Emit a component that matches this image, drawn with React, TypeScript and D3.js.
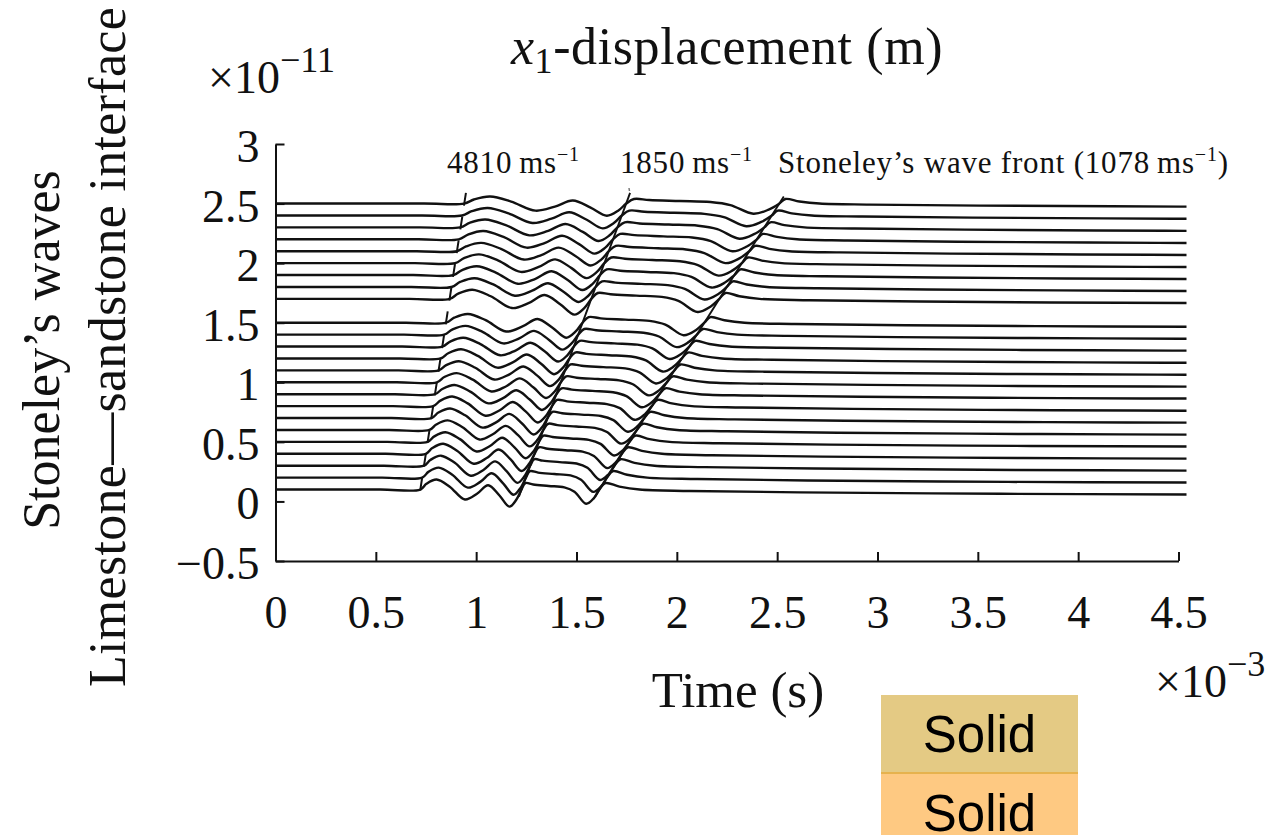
import React, { useRef, useEffect } from "react";
import * as d3 from "d3";

// receiver traces, baseline offset (×1e-11 m), top to bottom
const baselines = [2.5, 2.4, 2.3, 2.2, 2.1, 2.0, 1.9, 1.8, 1.7, 1.5, 1.4, 1.3, 1.2, 1.1, 1.0, 0.9, 0.8, 0.7, 0.6, 0.5, 0.4, 0.3, 0.2, 0.1];

// arrival times (×1e-3 s)
const pArrival = [0.94, 0.93, 0.92, 0.913, 0.904, 0.895, 0.886, 0.877, 0.868, 0.85, 0.84, 0.831, 0.822, 0.813, 0.804, 0.795, 0.786, 0.777, 0.767, 0.758, 0.749, 0.74, 0.731, 0.722];
const sArrival = [1.748, 1.726, 1.704, 1.682, 1.661, 1.639, 1.617, 1.595, 1.574, 1.53, 1.509, 1.487, 1.465, 1.443, 1.422, 1.4, 1.378, 1.356, 1.335, 1.313, 1.291, 1.269, 1.248, 1.226];
const stArrival = [2.511, 2.473, 2.436, 2.399, 2.361, 2.324, 2.287, 2.249, 2.212, 2.137, 2.1, 2.062, 2.025, 1.988, 1.95, 1.913, 1.875, 1.838, 1.801, 1.764, 1.726, 1.689, 1.652, 1.614];
const traceGain = [0.85, 0.9, 0.95, 1.0, 1.0, 1.05, 1.05, 1.05, 1.1, 1.05, 1.05, 1.05, 1.1, 1.1, 1.1, 1.1, 1.15, 1.15, 1.15, 1.15, 1.2, 1.2, 1.2, 1.2];

// wave shape between P and 1850 m/s arrivals (fraction of window, amplitude)
const pWindowU = [0, 0.06, 0.16, 0.29, 0.44, 0.56, 0.67, 0.78, 0.88, 0.95, 1.0];
const pWindowAmp = [0, 0.04, 0.07, 0.02, -0.07, -0.03, 0.03, -0.04, -0.12, -0.07, 0];
// wave shape between 1850 m/s arrival and Stoneley front
const sWindowV = [0.05, 0.15, 0.35, 0.55, 0.68, 0.83, 0.93, 1.0];
const sWindowAmp = [0.045, 0.035, 0.025, 0.015, -0.015, -0.1, -0.06, 0];
// tail after Stoneley front (ms after arrival, amplitude)
const tailDt = [0.03, 0.1, 0.2, 0.45, 1.0, 2.0, 3.0];
const tailAmp = [0.045, 0.02, 0.0, -0.01, -0.02, -0.03, -0.035];

// wave fronts: [time, offset] at top and bottom
const pFront = [[0.949, 2.59], [0.72, 0.08]];
const sFront = [[1.767, 2.59], [1.213, 0.04]];
const stFront = [[2.533, 2.56], [1.592, 0.04]];

const xTicks = [0, 0.5, 1, 1.5, 2, 2.5, 3, 3.5, 4, 4.5];
const xTickLabels = ["0", "0.5", "1", "1.5", "2", "2.5", "3", "3.5", "4", "4.5"];
const yTicks = [3, 2.5, 2, 1.5, 1, 0.5, 0, -0.5];
const yTickLabels = ["3", "2.5", "2", "1.5", "1", "0.5", "0", "\u22120.5"];

const legendItems = ["Solid", "Solid"];
const legendColors = ["#e4ca84", "#fec982"];

const W = 1281;
const H = 835;
const serif = "'Liberation Serif', 'Times New Roman', serif";

function buildTrace(i) {
  const b = baselines[i];
  const g = traceGain[i];
  const tp = pArrival[i];
  const ts = sArrival[i];
  const tst = stArrival[i];
  const pts = [[0, b], [tp - 0.2, b]];
  pWindowU.forEach((u, k) => pts.push([tp + u * (ts - tp), b + g * pWindowAmp[k]]));
  sWindowV.forEach((v, k) => pts.push([ts + v * (tst - ts), b + g * sWindowAmp[k]]));
  tailDt.forEach((dt, k) => pts.push([tst + dt, b + g * tailAmp[k]]));
  return pts;
}

const App = () => {
  const svgRef = useRef();

  useEffect(() => {
    const svg = d3.select(svgRef.current);
    svg.selectAll("*").remove();

    const x = d3.scaleLinear().domain([0, 4.5]).range([275.5, 1178.5]);
    const y = d3.scaleLinear().domain([-0.5, 3]).range([561, 144]);

    svg
      .append("defs")
      .append("clipPath")
      .attr("id", "plotClip")
      .append("rect")
      .attr("x", x(0))
      .attr("y", 0)
      .attr("width", x(4.5) - x(0) + 8)
      .attr("height", H);

    const line = d3
      .line()
      .x((d) => x(d[0]))
      .y((d) => y(d[1]))
      .curve(d3.curveCatmullRom.alpha(0.5));

    // traces
    const traces = svg.append("g").attr("clip-path", "url(#plotClip)");
    baselines.forEach((_, i) => {
      traces
        .append("path")
        .attr("d", line(buildTrace(i)))
        .attr("fill", "none")
        .attr("stroke", "#111")
        .attr("stroke-width", 2.4)
        .attr("stroke-linejoin", "round");
    });

    // wave front markers
    const straight = d3.line().x((d) => x(d[0])).y((d) => y(d[1]));
    traces
      .append("path")
      .attr("d", straight(pFront))
      .attr("fill", "none")
      .attr("stroke", "#111")
      .attr("stroke-width", 2)
      .attr("stroke-dasharray", "13 11");
    [sFront, stFront].forEach((f) => {
      traces
        .append("path")
        .attr("d", straight(f))
        .attr("fill", "none")
        .attr("stroke", "#111")
        .attr("stroke-width", 1.9);
    });

    // axes
    const xAxis = svg
      .append("g")
      .attr("transform", `translate(0, ${y(-0.5)})`)
      .call(
        d3
          .axisBottom(x)
          .tickValues(xTicks)
          .tickFormat((_, i) => xTickLabels[i])
          .tickSizeInner(-9)
          .tickSizeOuter(0)
          .tickPadding(34)
      );
    const yAxis = svg
      .append("g")
      .attr("transform", `translate(${x(0)}, 0)`)
      .call(
        d3
          .axisLeft(y)
          .tickValues(yTicks)
          .tickFormat((_, i) => yTickLabels[i])
          .tickSizeInner(-9)
          .tickSizeOuter(0)
          .tickPadding(16)
      );
    [xAxis, yAxis].forEach((a) => {
      a.selectAll("path, line").attr("stroke", "#111").attr("stroke-width", 2);
      a.selectAll("text")
        .attr("fill", "#111")
        .style("font-family", serif)
        .style("font-size", "46px");
    });
    yAxis.selectAll("text").attr("dy", "0.38em");

    const txt = (px, py, size, anchor = "start") =>
      svg
        .append("text")
        .attr("x", px)
        .attr("y", py)
        .attr("text-anchor", anchor)
        .attr("fill", "#111")
        .style("font-family", serif)
        .style("font-size", `${size}px`);

    // title
    const title = txt(727, 64, 52, "middle").attr("letter-spacing", 0.6);
    title.append("tspan").attr("font-style", "italic").text("x");
    title.append("tspan").attr("font-size", 36).attr("dy", 9).text("1");
    title.append("tspan").attr("dy", -9).text("-displacement (m)");

    // exponents
    const ey = txt(208, 93, 46);
    ey.append("tspan").text("\u00d710");
    ey.append("tspan").attr("font-size", 36).attr("dy", -21).text("\u221211");
    const ex = txt(1155, 697, 46);
    ex.append("tspan").text("\u00d710");
    ex.append("tspan").attr("font-size", 36).attr("dy", -21).text("\u22123");

    // axis labels
    txt(738, 707, 51, "middle").text("Time (s)");
    txt(0, 0, 52, "middle")
      .attr("transform", `translate(59, 350) rotate(-90)`)
      .text("Stoneley\u2019s waves");
    txt(0, 0, 52, "middle")
      .attr("transform", `translate(125, 347) rotate(-90)`)
      .attr("letter-spacing", 0.3)
      .text("Limestone\u2014sandstone interface");

    // wave front labels
    const ann = (px, pre) => {
      const t = txt(px, 173, 31).attr("letter-spacing", 0.8);
      t.append("tspan").text(pre);
      t.append("tspan").attr("font-size", 20).attr("dy", -12).text("\u22121");
      return t;
    };
    ann(447, "4810\u2009ms");
    ann(620, "1850\u2009ms");
    const st = ann(778, "Stoneley\u2019s wave front (1078\u2009ms");
    st.append("tspan").attr("dy", 12).text(")");
    svg
      .append("line")
      .attr("x1", 629)
      .attr("x2", 629.5)
      .attr("y1", 188)
      .attr("y2", 191)
      .attr("stroke", "#777")
      .attr("stroke-width", 1.5);

    // legend boxes
    const lg = svg.append("g");
    legendItems.forEach((name, i) => {
      const top = 695 + i * 79;
      lg.append("rect")
        .attr("x", 881)
        .attr("y", top)
        .attr("width", 197)
        .attr("height", 79)
        .attr("fill", legendColors[i]);
      lg.append("text")
        .attr("x", 979.5)
        .attr("y", top + 57)
        .attr("text-anchor", "middle")
        .attr("fill", "#000")
        .style("font-family", "'Liberation Sans', Arial, sans-serif")
        .style("font-size", "51px")
        .text(name);
    });
    lg.append("line")
      .attr("x1", 881)
      .attr("x2", 1078)
      .attr("y1", 773)
      .attr("y2", 773)
      .attr("stroke", "#e6b24e")
      .attr("stroke-width", 2);
  }, []);

  return (
    <svg
      ref={svgRef}
      width={W}
      height={H}
      style={{ position: "absolute", left: 0, top: 0, background: "#fff" }}
    ></svg>
  );
};

export default App;
